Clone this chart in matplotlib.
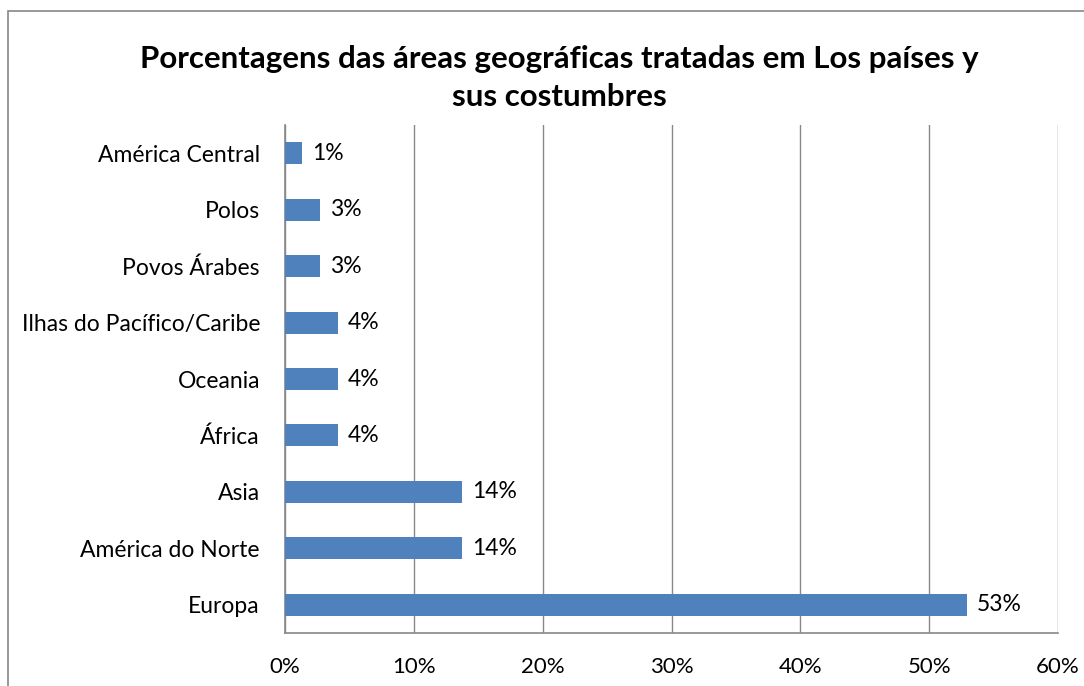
import matplotlib.pyplot as plt
from matplotlib.patches import Rectangle

plt.rcParams['font.family'] = ['Lato', 'DejaVu Sans']

categorias = ['Europa', 'América do Norte', 'Asia', 'África', 'Oceania',
              'Ilhas do Pacífico/Caribe', 'Povos Árabes', 'Polos', 'América Central']
valores = [52.9, 13.7, 13.7, 4.1, 4.1, 4.1, 2.7, 2.7, 1.3]
etiquetas = ['53%', '14%', '14%', '4%', '4%', '4%', '3%', '3%', '1%']
ticks = [0, 10, 20, 30, 40, 50, 60]

fig = plt.figure(figsize=(10.84, 6.86), dpi=100)
# marco exterior del grafico
fig.patches.append(Rectangle((8 / 1084, -0.05), 1.2, (686 - 11) / 686 + 0.05,
                             transform=fig.transFigure, fill=False,
                             edgecolor='#888888', linewidth=1.2))
ax = fig.add_axes([285 / 1084, 53 / 686, (1058 - 285) / 1084, (633 - 125) / 686])

y = range(len(categorias))
ax.barh(y, valores, height=0.39, color='#4F81BD', zorder=3)
for i, (v, t) in enumerate(zip(valores, etiquetas)):
    ax.text(v + 0.8, i, t, va='center', ha='left', fontsize=16.5)

ax.set_xlim(0, 60)
ax.set_ylim(-0.5, len(categorias) - 0.5)
ax.set_xticks(ticks)
ax.set_xticklabels([f'{t}%' for t in ticks], fontsize=16)
ax.set_yticks(list(y))
ax.set_yticklabels(categorias, fontsize=16.5)
ax.tick_params(axis='both', length=0)
ax.tick_params(axis='x', pad=17)
ax.tick_params(axis='y', pad=18)
ax.grid(axis='x', color='#888888', linewidth=1, zorder=0)
for s in ['top', 'right']:
    ax.spines[s].set_visible(False)
for s in ['left', 'bottom']:
    ax.spines[s].set_color('#888888')
    ax.spines[s].set_linewidth(1.2)

fig.text(559 / 1084, 1 - 78 / 686,
         'Porcentagens das áreas geográficas tratadas em Los países y\nsus costumbres',
         ha='center', va='center', fontsize=22.5, fontweight='bold', linespacing=1.45)

plt.savefig('out.png', dpi=100)
